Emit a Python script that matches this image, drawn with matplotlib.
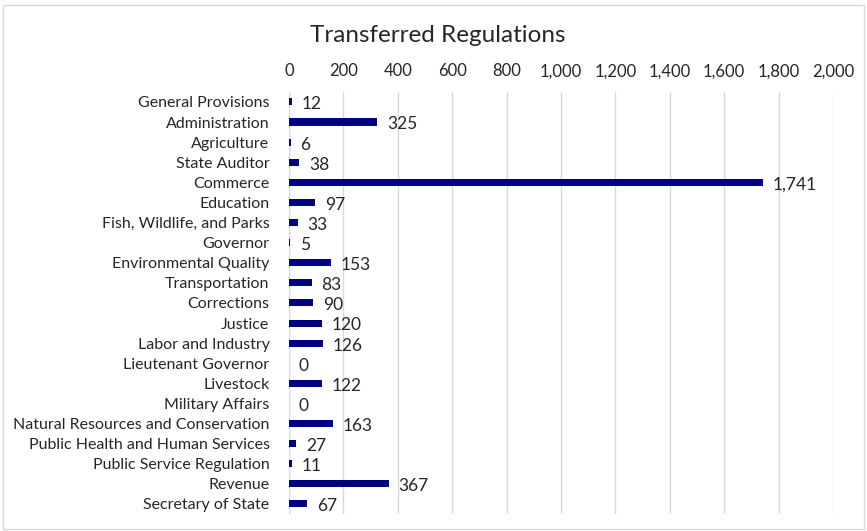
import matplotlib
matplotlib.use("Agg")
from matplotlib import pyplot as plt
from matplotlib.patches import Rectangle

categories = ['General Provisions', 'Administration', 'Agriculture', 'State Auditor',
              'Commerce', 'Education', 'Fish, Wildlife, and Parks', 'Governor',
              'Environmental Quality', 'Transportation', 'Corrections', 'Justice',
              'Labor and Industry', 'Lieutenant Governor', 'Livestock', 'Military Affairs',
              'Natural Resources and Conservation', 'Public Health and Human Services',
              'Public Service Regulation', 'Revenue', 'Secretary of State']
values = [12, 325, 6, 38, 1741, 97, 33, 5, 153, 83, 90, 120, 126, 0, 122, 0,
          163, 27, 11, 367, 67]
xticks = [0, 200, 400, 600, 800, 1000, 1200, 1400, 1600, 1800, 2000]

plt.rcParams['font.family'] = ['Lato', 'DejaVu Sans']

fig = plt.figure(figsize=(8.67, 5.31), dpi=100)
fig.patches.append(Rectangle((0.004, 0.004), 0.992, 0.986, transform=fig.transFigure,
                             fill=False, edgecolor='#d9d9d9', linewidth=1))
ax = fig.add_axes([0.3333, 0.032, 0.6275, 0.795])

pos = list(range(len(categories)))
ax.barh(pos, values, height=0.35, color='#000080', zorder=3)
for p, v in zip(pos, values):
    ax.text(v + 36, p + 0.12, f"{v:,}", va='center', ha='left', fontsize=12.5,
            color='#262626')

ax.set_xlim(0, 2000)
ax.set_ylim(len(categories) - 0.5, -0.5)
ax.set_yticks(pos)
ax.set_yticklabels(categories, fontsize=11.5, color='#262626')
ax.set_xticks(xticks)
ax.set_xticklabels([f"{t:,}" for t in xticks], fontsize=12, color='#262626')
ax.xaxis.tick_top()
ax.tick_params(axis='y', length=0, pad=14)
ax.tick_params(axis='x', length=0, pad=9)
ax.grid(axis='x', color='#d9d9d9', linewidth=1, zorder=0)
for s in ax.spines.values():
    s.set_visible(False)
ax.axvline(0, color='#d9d9d9', linewidth=1, zorder=1)

fig.text(0.505, 0.934, 'Transferred Regulations', ha='center', va='center',
         fontsize=17.5, color='#262626')

fig.savefig('out.png', dpi=100)
